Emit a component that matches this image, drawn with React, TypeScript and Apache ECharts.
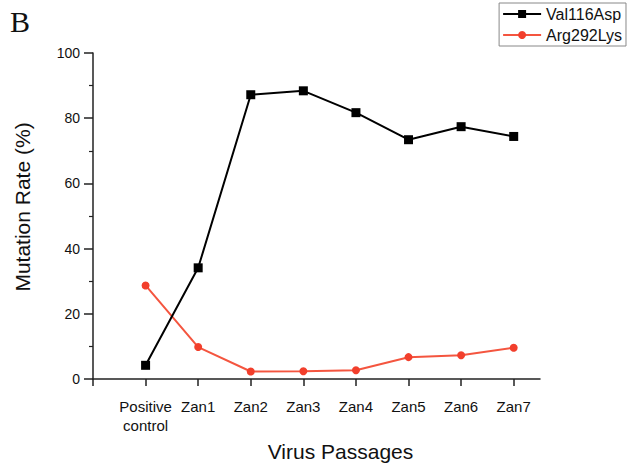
import React, { useEffect, useRef } from "react";
import * as echarts from "echarts";

const categories = ["Positive\ncontrol", "Zan1", "Zan2", "Zan3", "Zan4", "Zan5", "Zan6", "Zan7"];
const val116Asp = [4.2, 34.1, 87.2, 88.4, 81.7, 73.4, 77.4, 74.4];
const arg292Lys = [28.7, 9.8, 2.3, 2.4, 2.7, 6.7, 7.3, 9.6];
const yTicks = [0, 20, 40, 60, 80, 100];

export default function App() {
  const ref = useRef<HTMLDivElement>(null);
  useEffect(() => {
    if (!ref.current) return;
    document.body.style.margin = "0";
    const chart = echarts.init(ref.current, null, { renderer: "svg" });
    const font = "Liberation Sans, Arial, sans-serif";
    const xIdx = categories.map((_, i) => i);
    chart.setOption({
      animation: false,
      backgroundColor: "#ffffff",
      textStyle: { fontFamily: font },
      graphic: [
        {
          type: "text",
          left: 10,
          top: 6,
          style: { text: "B", font: "30px 'Liberation Serif', 'DejaVu Serif', serif", fill: "#111" },
        },
      ],
      legend: {
        orient: "vertical",
        right: 2,
        top: 3,
        padding: [3, 4, 3, 3],
        itemGap: 5,
        itemWidth: 38,
        itemHeight: 10,
        borderColor: "#888",
        borderWidth: 1,
        textStyle: { fontSize: 16, color: "#111", fontFamily: font },
        data: ["Val116Asp", "Arg292Lys"],
      },
      grid: { left: 93, right: 88, top: 53, bottom: 84, containLabel: false },
      xAxis: {
        type: "value",
        min: -1,
        max: 7.5,
        interval: 1,
        name: "Virus Passages",
        nameLocation: "middle",
        nameGap: 62,
        nameTextStyle: { fontSize: 21, color: "#111", fontFamily: font, padding: [0, 0, 0, 48] },
        axisLine: { show: true, onZero: false, lineStyle: { color: "#222", width: 1.5 } },
        axisTick: { show: true, length: 7, customValues: [-1, 0, 1, 2, 3, 4, 5, 6, 7], lineStyle: { color: "#222", width: 1.5 } },
        axisLabel: {
          customValues: xIdx,
          margin: 18,
          fontSize: 15,
          lineHeight: 19,
          color: "#111",
          fontFamily: font,
          formatter: (v: number) => categories[Math.round(v)] ?? "",
        },
        splitLine: { show: false },
      },
      yAxis: {
        type: "value",
        min: 0,
        max: 100,
        interval: 20,
        name: "Mutation Rate (%)",
        nameLocation: "middle",
        nameGap: 60,
        nameTextStyle: { fontSize: 21, color: "#111", fontFamily: font, padding: [0, 0, 0, 18] },
        axisLine: { show: true, onZero: false, lineStyle: { color: "#222", width: 1.5 } },
        axisTick: { show: true, length: 9, lineStyle: { color: "#222", width: 1.5 } },
        minorTick: { show: true, splitNumber: 2, length: 4, lineStyle: { color: "#222", width: 1.2 } },
        axisLabel: {
          fontSize: 14,
          color: "#111",
          fontFamily: font,
          margin: 13,
          formatter: (v: number) => (yTicks.includes(v) ? String(v) : ""),
        },
        splitLine: { show: false },
      },
      series: [
        {
          name: "Val116Asp",
          type: "line",
          data: val116Asp.map((v, i) => [i, v]),
          symbol: "rect",
          symbolSize: 9,
          itemStyle: { color: "#000000" },
          lineStyle: { color: "#000000", width: 2 },
          z: 3,
        },
        {
          name: "Arg292Lys",
          type: "line",
          data: arg292Lys.map((v, i) => [i, v]),
          symbol: "circle",
          symbolSize: 8,
          itemStyle: { color: "#f23f2c" },
          lineStyle: { color: "#f4553f", width: 2 },
          z: 2,
        },
      ],
    });
    return () => chart.dispose();
  }, []);
  return <div ref={ref} style={{ width: 628, height: 467 }} />;
}
